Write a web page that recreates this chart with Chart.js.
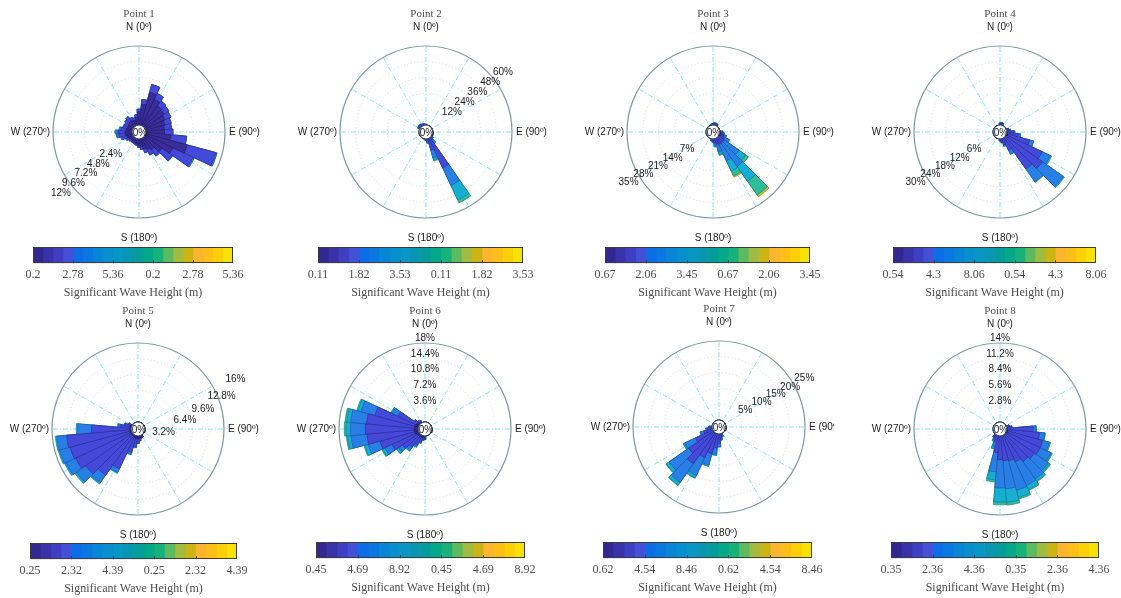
<!DOCTYPE html>
<html>
<head>
<meta charset="utf-8">
<script src="https://cdn.jsdelivr.net/npm/chart.js@4.4.1/dist/chart.umd.min.js"></script>
<style>
  html, body { margin: 0; padding: 0; background: #fff; overflow: hidden; }
  #fig { position: relative; width: 1121px; height: 598px; }
  #fig canvas { position: absolute; }
</style>
</head>
<body>
<div id="fig"></div>
<script>
(function(){
  const SANS = '"Liberation Sans", Arial, sans-serif';
  const SERIF = '"Liberation Serif", "Times New Roman", serif';

  // direction sectors (10 deg bins, centred on the label)
  const directions = ['0','10','20','30','40','50','60','70','80','90','100','110','120','130','140','150','160','170',
    '180','190','200','210','220','230','240','250','260','270','280','290','300','310','320','330','340','350'];

  // wave height band colours (inner to outer)
  const binColors = ['#3a2d9a', '#4549da', '#2a7fe6', '#18aed4', '#2ebd9a', '#b8c43a'];
  const binEdges  = ['#261d6c', '#2e3198', '#1b5aa8', '#0f7d99', '#1e876d', '#7f8822'];
  // stepped colormap of the colorbar
  const barColors = ['#33288f','#3a32a8','#3e3fc2','#4450d6','#0d6de6','#0a78e0','#0886d6','#078fce','#0896c4','#0896b0',
    '#069c9c','#03a988','#16b27a','#5dba5e','#9fbb40','#cbb416','#fdb42e','#fcbf1a','#fcd005','#f9e200'];

  // ---- Point 1 ----
  const p1Ticks = [2.4, 4.8, 7.2, 9.6, 12];
  const p1Bar = ['0.2', '2.78', '5.36', '0.2', '2.78', '5.36'];
  const p1Bins = [0, 1, 2, 3];
  const p1Freq = [
    [2.0,3.2,5.2,4.4,3.8,3.6,3.3,3.0,2.8,  2.8,3.8,6.5,4.6,3.2,2.2,1.9,1.6,1.2,  1.0,0.8,0.7,0.6,0.6,0.6,0.7,0.9,1.0,  1.0,0.9,0.8,0.8,0.9,1.0,0.9,0.8,1.2],
    [0.4,0.7,1.2,1.0,0.9,0.9,1.0,1.0,1.1,  1.3,2.4,4.5,3.4,1.9,1.2,0.9,0.6,0.4,  0.3,0.2,0.2,0.2,0.2,0.3,0.4,0.7,1.0,  1.1,0.8,0.6,0.5,0.6,0.7,0.5,0.4,0.4],
    [0,0,0,0,0,0,0,0,0,                    0,0,0.2,0.2,0.1,0,0,0,0,              0,0,0,0,0,0,0.1,0.2,0.3,              0.35,0.2,0.1,0.1,0.1,0.1,0,0,0],
    [0,0,0,0,0,0,0,0,0,                    0,0,0,0,0,0,0,0,0,                    0,0,0,0,0,0,0,0,0.1,                  0.15,0.1,0,0,0,0,0,0,0]
  ];

  // ---- Point 2 ----
  const p2Ticks = [12, 24, 36, 48, 60];
  const p2Bar = ['0.11', '1.82', '3.53', '0.11', '1.82', '3.53'];
  const p2Bins = [1, 2, 3, 4];
  const p2Freq = [
    [0.6,0,0,0,0,0,0,0,0,  0,0,0,0,1.0,2.0,24.8,9.0,2.0,  1.0,0.6,0,0,0,0,0,0,0,  0,0,0,1.2,1.4,1.5,1.2,1.0,0.8],
    [0,0,0,0,0,0,0,0,0,    0,0,0,0,0.5,2.0,14.6,6.0,1.0,  0.2,0,0,0,0,0,0,0,0,    0,0,0,0.4,0.4,0.5,0.3,0.2,0],
    [0,0,0,0,0,0,0,0,0,    0,0,0,0,0,1.0,12.2,1.5,0.5,    0,0,0,0,0,0,0,0,0,      0,0,0,0.2,0.4,0,0,0,0],
    [0,0,0,0,0,0,0,0,0,    0,0,0,0,0,0.5,2.4,1.0,0,       0,0,0,0,0,0,0,0,0,      0,0,0,0,0,0,0,0,0]
  ];

  // ---- Point 3 ----
  const p3Ticks = [7, 14, 21, 28, 35];
  const p3Bar = ['0.67', '2.06', '3.45', '0.67', '2.06', '3.45'];
  const p3Bins = [1, 2, 3, 4, 5];
  const p3Freq = [
    [0.6,1.0,1.0,0.8,0,0,0,0,0,  1.2,1.6,2.0,2.5,3.0,3.0,3.0,2.5,1.8,  1.0,0.8,0,0,0,0,0,0,0,  0,0,0,0,0,0,0,0,0.5],
    [0,0,0,0,0,0,0,0,0,          0,0.4,0.8,2.0,8.0,12.5,8.0,3.5,1.2,   0.5,0,0,0,0,0,0,0,0,    0,0,0,0,0,0,0,0,0],
    [0,0,0,0,0,0,0,0,0,          0,0,0.2,0.5,3.5,8.0,5.0,1.0,0.5,      0,0,0,0,0,0,0,0,0,      0,0,0,0,0,0,0,0,0],
    [0,0,0,0,0,0,0,0,0,          0,0,0,0,1.5,7.5,2.4,0.6,0,            0,0,0,0,0,0,0,0,0,      0,0,0,0,0,0,0,0,0],
    [0,0,0,0,0,0,0,0,0,          0,0,0,0,0,1.0,0.6,0,0,                0,0,0,0,0,0,0,0,0,      0,0,0,0,0,0,0,0,0]
  ];

  // ---- Point 4 ----
  const p4Ticks = [6, 12, 18, 24, 30];
  const p4Bar = ['0.54', '4.3', '8.06', '0.54', '4.3', '8.06'];
  const p4Bins = [1, 2, 3];
  const p4Freq = [
    [0.8,1.0,0.8,0,0,0,0,0.8,1.3,  2.6,4.5,9.0,15.0,17.0,14.5,5.0,2.4,1.3,  0.8,0,0,0,0,0,0,0,0,  0,0,0,0,0,0,0,0,0],
    [0,0,0,0,0,0,0,0,0.2,          0.4,0.7,1.6,3.5,9.7,5.9,1.6,0.6,0.2,     0,0,0,0,0,0,0,0,0,    0,0,0,0,0,0,0,0,0],
    [0,0,0,0,0,0,0,0,0,            0,0,0,0.5,0.5,0.3,0.2,0,0,               0,0,0,0,0,0,0,0,0,    0,0,0,0,0,0,0,0,0]
  ];

  // ---- Point 5 ----
  const p5Ticks = [3.2, 6.4, 9.6, 12.8, 16];
  const p5Bar = ['0.25', '2.32', '4.39', '0.25', '2.32', '4.39'];
  const p5Bins = [0, 1, 2, 3];
  const p5Freq = [
    [0,0,0,0,0,0,0,0,0,  0,0,0,0,0,0,0.3,0.4,0.5,  0.6,0.5,0.4,0.3,0.3,0.3,0.3,0.3,0.3,      0.3,0.2,0.2,0.2,0,0,0,0,0],
    [0,0,0,0,0,0,0,0,0,  0,0,0,0,0,0,0.2,0.2,0.5,  0.9,1.7,3.1,7.2,9.7,11.2,12.2,12.5,12.8,  7.7,2.0,1.2,0.6,0,0,0,0,0],
    [0,0,0,0,0,0,0,0,0,  0,0,0,0,0,0,0,0,0,        0,0.2,0.4,0.8,1.9,2.3,2.2,2.2,2.0,        2.8,0.4,0.1,0,0,0,0,0,0],
    [0,0,0,0,0,0,0,0,0,  0,0,0,0,0,0,0,0,0,        0,0,0.1,0.2,0.3,0.4,0.3,0.3,0.3,          0.3,0.2,0,0,0,0,0,0,0]
  ];

  // ---- Point 6 ----
  const p6Ticks = [3.6, 7.2, 10.8, 14.4, 18];
  const p6Bar = ['0.45', '4.69', '8.92', '0.45', '4.69', '8.92'];
  const p6Bins = [0, 1, 2, 3, 4];
  const p6Freq = [
    [0,0,0,0,0,0,0,0,0,  0,0,0,0,0,0,0,0,0,  0,0.3,0.4,0.4,0.4,0.4,0.8,0.8,0.8,      0.8,0.8,0.8,0.6,0.3,0.2,0.2,0,0],
    [0,0,0,0,0,0,0,0,0,  0,0,0,0,0,0,0,0,0,  0.8,0.6,1.1,2.0,3.1,4.3,5.9,8.2,10.9,   11.2,11.0,9.4,4.6,1.0,0.6,0.3,0,0],
    [0,0,0,0,0,0,0,0,0,  0,0,0,0,0,0,0,0,0,  0,0.1,0.2,0.4,0.7,1.1,1.8,2.8,3.6,      3.4,3.6,3.3,1.4,0.2,0,0,0,0],
    [0,0,0,0,0,0,0,0,0,  0,0,0,0,0,0,0,0,0,  0,0,0.1,0.2,0.3,0.5,0.6,0.8,0.8,        1.0,0.9,0.7,0.3,0,0,0,0,0],
    [0,0,0,0,0,0,0,0,0,  0,0,0,0,0,0,0,0,0,  0,0,0,0,0.1,0.1,0.2,0.2,0.3,            0.4,0.4,0.3,0.1,0,0,0,0,0]
  ];

  // ---- Point 7 ----
  const p7Ticks = [5, 10, 15, 20, 25];
  const p7Bar = ['0.62', '4.54', '8.46', '0.62', '4.54', '8.46'];
  const p7Bins = [1, 2, 3, 4];
  const p7Freq = [
    [0,0,0,0,0,0,0,0,0,  0,0,0,0,0,0,0,1.0,1.6,  3.0,4.5,6.5,8.5,12.0,9.5,6.0,2.8,1.6,  1.0,0,0,0,0,0,0,0,0],
    [0,0,0,0,0,0,0,0,0,  0,0,0,0,0,0,0,0,0.4,    1.0,2.0,3.7,6.2,7.2,7.6,3.8,1.0,0.4,    0,0,0,0,0,0,0,0,0],
    [0,0,0,0,0,0,0,0,0,  0,0,0,0,0,0,0,0,0,      0.1,0.3,0.4,0.8,1.0,1.0,0.4,0.2,0,      0,0,0,0,0,0,0,0,0],
    [0,0,0,0,0,0,0,0,0,  0,0,0,0,0,0,0,0,0,      0,0,0.1,0.2,0.2,0.2,0.1,0,0,            0,0,0,0,0,0,0,0,0]
  ];

  // ---- Point 8 ----
  const p8Ticks = [2.8, 5.6, 8.4, 11.2, 14];
  const p8Bar = ['0.35', '2.36', '4.36', '0.35', '2.36', '4.36'];
  const p8Bins = [1, 2, 3, 4];
  const p8Freq = [
    [0,0,0,0,0,0,0,0.5,0.8,  4.6,5.8,6.6,6.6,6.2,5.8,5.2,4.6,4.4,  4.2,3.0,1.2,0.8,0.6,0,0,0,0,  0,0,0,0,0,0,0,0,0],
    [0,0,0,0,0,0,0,0,0.1,    0.5,0.9,1.2,2.1,3.0,3.8,4.6,5.4,5.0,  5.0,3.4,0.8,0.3,0,0,0,0,0,    0,0,0,0,0,0,0,0,0],
    [0,0,0,0,0,0,0,0,0,      0.1,0.1,0.2,0.2,0.3,0.4,0.8,1.3,2.4,  2.5,1.4,0.4,0.1,0,0,0,0,0,    0,0,0,0,0,0,0,0,0],
    [0,0,0,0,0,0,0,0,0,      0,0,0,0.1,0.2,0.2,0.2,0.3,0.5,        0.5,0.4,0.1,0,0,0,0,0,0,      0,0,0,0,0,0,0,0,0]
  ];

  // layout: rose centre, canvas width, colorbar box, frequency label bearings and radial offsets
  const panels = [
    { title: 'Point 1', freq: p1Freq, bins: p1Bins, ticks: p1Ticks, bar: p1Bar, cx: 139, cy: 132, w: 280, bx: 33,  by: 247, bw: 200,
      labAng: [232, 232, 232, 232, 232], labOff: [13, 13, 13, 13, 13] },
    { title: 'Point 2', freq: p2Freq, bins: p2Bins, ticks: p2Ticks, bar: p2Bar, cx: 426, cy: 132, w: 280, bx: 318, by: 247, bw: 205,
      labAng: [52, 52, 52, 52, 52], labOff: [10, 10.4, 10.8, 11.2, 11.6] },
    { title: 'Point 3', freq: p3Freq, bins: p3Bins, ticks: p3Ticks, bar: p3Bar, cx: 713, cy: 132, w: 280, bx: 605, by: 247, bw: 205,
      labAng: [236, 237, 238, 238.5, 239], labOff: [8.5, 9.5, 10.5, 11.5, 12.5] },
    { title: 'Point 4', freq: p4Freq, bins: p4Bins, ticks: p4Ticks, bar: p4Bar, cx: 1000, cy: 132, w: 280, bx: 893, by: 247, bw: 203,
      labAng: [236, 237, 238, 238.5, 239], labOff: [8.5, 9.5, 10.5, 11.5, 12.5] },
    { title: 'Point 5', freq: p5Freq, bins: p5Bins, ticks: p5Ticks, bar: p5Bar, cx: 138, cy: 429, w: 280, bx: 30,  by: 543, bw: 207,
      labAng: [98, 80, 73, 68.7, 62.8], labOff: [3, 9, 13.5, 19.5, 23.5] },
    { title: 'Point 6', freq: p6Freq, bins: p6Bins, ticks: p6Ticks, bar: p6Bar, cx: 425, cy: 429, w: 280, bx: 316, by: 542, bw: 209,
      labAng: [0, 0, 0, 0, 0], labOff: [5, 5, 5, 5, 5] },
    { title: 'Point 7', freq: p7Freq, bins: p7Bins, ticks: p7Ticks, bar: p7Bar, cx: 719, cy: 427, w: 255, bx: 603, by: 542, bw: 209,
      labAng: [58, 60, 60, 60.5, 60.5], labOff: [8, 10.5, 11, 11.5, 12] },
    { title: 'Point 8', freq: p8Freq, bins: p8Bins, ticks: p8Ticks, bar: p8Bar, cx: 1000, cy: 429, w: 280, bx: 891, by: 542, bw: 208,
      labAng: [0, 0, 0, 0, 0], labOff: [5, 5, 5, 5, 5] }
  ];

  const fig = document.getElementById('fig');
  function makeCanvas(left, top, w, h) {
    const c = document.createElement('canvas');
    c.width = w; c.height = h;
    c.style.left = left + 'px'; c.style.top = top + 'px';
    c.style.width = w + 'px'; c.style.height = h + 'px';
    fig.appendChild(c);
    return c;
  }

  function rosePlugin(p) {
    return {
      id: 'roseDecor',
      beforeDatasetsDraw(chart) {
        const s = chart.scales.r, ctx = chart.ctx;
        const R = s.getDistanceFromCenterForValue(s.max);
        ctx.save();
        ctx.strokeStyle = '#74e5ee';
        ctx.lineWidth = 0.9;
        ctx.setLineDash([5, 2, 1, 2]);
        for (let a = 0; a < 360; a += 30) {
          const t = a * Math.PI / 180;
          ctx.beginPath();
          ctx.moveTo(s.xCenter, s.yCenter);
          ctx.lineTo(s.xCenter + R * Math.sin(t), s.yCenter - R * Math.cos(t));
          ctx.stroke();
        }
        ctx.restore();
      },
      afterDatasetsDraw(chart) {
        const s = chart.scales.r, ctx = chart.ctx;
        const xc = s.xCenter, yc = s.yCenter;
        const R = s.getDistanceFromCenterForValue(s.max);
        const r0 = s.getDistanceFromCenterForValue(0);
        ctx.save();
        // empty centre
        ctx.beginPath();
        ctx.arc(xc, yc, r0, 0, Math.PI * 2);
        ctx.fillStyle = '#fff';
        ctx.fill();
        ctx.lineWidth = 1.1;
        ctx.strokeStyle = '#34495e';
        ctx.stroke();

        ctx.font = '10px ' + SANS;
        ctx.fillStyle = '#1a1a1a';
        ctx.textAlign = 'center';
        ctx.textBaseline = 'middle';
        ctx.fillText('0%', xc + 1, yc + 1);

        // frequency labels
        p.ticks.forEach((v, k) => {
          const t = p.labAng[k] * Math.PI / 180;
          const r = s.getDistanceFromCenterForValue(v) + p.labOff[k];
          ctx.fillText(v + '%', xc + r * Math.sin(t), yc - r * Math.cos(t));
        });

        // cardinal directions
        ctx.fillText('N (0º)', xc, yc - R - 19);
        ctx.fillText('S (180º)', xc, yc + R + 20);
        ctx.textAlign = 'left';
        ctx.fillText('E (90º)', xc + R + 4, yc + 0.5);
        ctx.textAlign = 'right';
        ctx.fillText('W (270º)', xc - R - 3, yc + 0.5);

        // title
        ctx.textAlign = 'center';
        ctx.font = '11px ' + SERIF;
        ctx.fillStyle = '#4d4d4d';
        ctx.fillText(p.title, xc, yc - R - 32);
        ctx.restore();
      }
    };
  }

  const barFrame = {
    id: 'barFrame',
    afterDatasetsDraw(chart) {
      const a = chart.chartArea, ctx = chart.ctx, x = chart.scales.x;
      ctx.save();
      ctx.strokeStyle = '#3c3c3c';
      ctx.lineWidth = 1;
      x.ticks.forEach((t, i) => {
        if (i === 0 || i === x.ticks.length - 1) return;
        const px = Math.round(x.getPixelForValue(t.value)) + 0.5;
        ctx.beginPath();
        ctx.moveTo(px, a.bottom);
        ctx.lineTo(px, a.bottom - 3);
        ctx.stroke();
      });
      ctx.strokeRect(Math.round(a.left) + 0.5, Math.round(a.top) + 0.5, Math.round(a.width) - 1, Math.round(a.height) - 1);
      ctx.restore();
    }
  };

  panels.forEach(p => {
    const fmax = p.ticks[p.ticks.length - 1];
    const H = 250;
    const canvas = makeCanvas(p.cx - 140, p.cy - 132, p.w, H);

    // stacked bands: cumulative totals, innermost dataset drawn on top
    let run = directions.map(() => 0);
    const datasets = p.freq.map((band, k) => {
      run = run.map((v, i) => +(v + band[i]).toFixed(3));
      return {
        data: run.slice(),
        backgroundColor: binColors[p.bins[k]],
        borderColor: binEdges[p.bins[k]],
        borderWidth: 0.7
      };
    });

    new Chart(canvas, {
      type: 'polarArea',
      data: { labels: directions, datasets },
      options: {
        responsive: false,
        animation: false,
        layout: { padding: { left: 54, right: p.w - 226, top: 46, bottom: H - 218 } },
        plugins: { legend: { display: false }, tooltip: { enabled: false } },
        scales: {
          r: {
            min: -fmax * 7 / 79,
            max: fmax,
            startAngle: -5,
            afterBuildTicks: sc => { sc.ticks = p.ticks.map(v => ({ value: v })); },
            ticks: { display: false },
            pointLabels: { display: false },
            angleLines: { display: false },
            grid: {
              circular: true,
              color: c => c.index === p.ticks.length - 1 ? '#7d9a9a' : '#cdd3d3',
              lineWidth: c => c.index === p.ticks.length - 1 ? 1.2 : 0.8
            },
            border: { dash: c => c.index === p.ticks.length - 1 ? [] : [1, 2.5] }
          }
        }
      },
      plugins: [rosePlugin(p)]
    });

    // colorbar
    const bc = makeCanvas(p.bx - 25, p.by, p.bw + 50, 53);
    new Chart(bc, {
      type: 'bar',
      data: {
        labels: [''],
        datasets: barColors.map(c => ({ data: [1], backgroundColor: c, borderWidth: 0 }))
      },
      options: {
        indexAxis: 'y',
        responsive: false,
        animation: false,
        layout: { padding: { left: 25, right: 25, top: 0, bottom: 0 } },
        plugins: {
          legend: { display: false },
          tooltip: { enabled: false },
          title: {
            display: true, position: 'bottom', text: 'Significant Wave Height (m)', color: '#4d4d4d',
            font: { family: SERIF, size: 12, weight: 'normal' }, padding: { top: 0, bottom: 0 }
          }
        },
        datasets: { bar: { barPercentage: 1, categoryPercentage: 1 } },
        scales: {
          x: {
            stacked: true,
            min: 0,
            max: barColors.length,
            grid: { display: false, drawTicks: false },
            border: { display: false },
            afterBuildTicks: sc => { sc.ticks = p.bar.map((_, i) => ({ value: i * barColors.length / (p.bar.length - 1) })); },
            ticks: {
              autoSkip: false, maxRotation: 0, padding: 4, color: '#4d4d4d',
              font: { family: SERIF, size: 12 },
              callback: (v, i) => p.bar[i]
            }
          },
          y: { stacked: true, display: false }
        }
      },
      plugins: [barFrame]
    });
  });
})();
</script>
</body>
</html>
